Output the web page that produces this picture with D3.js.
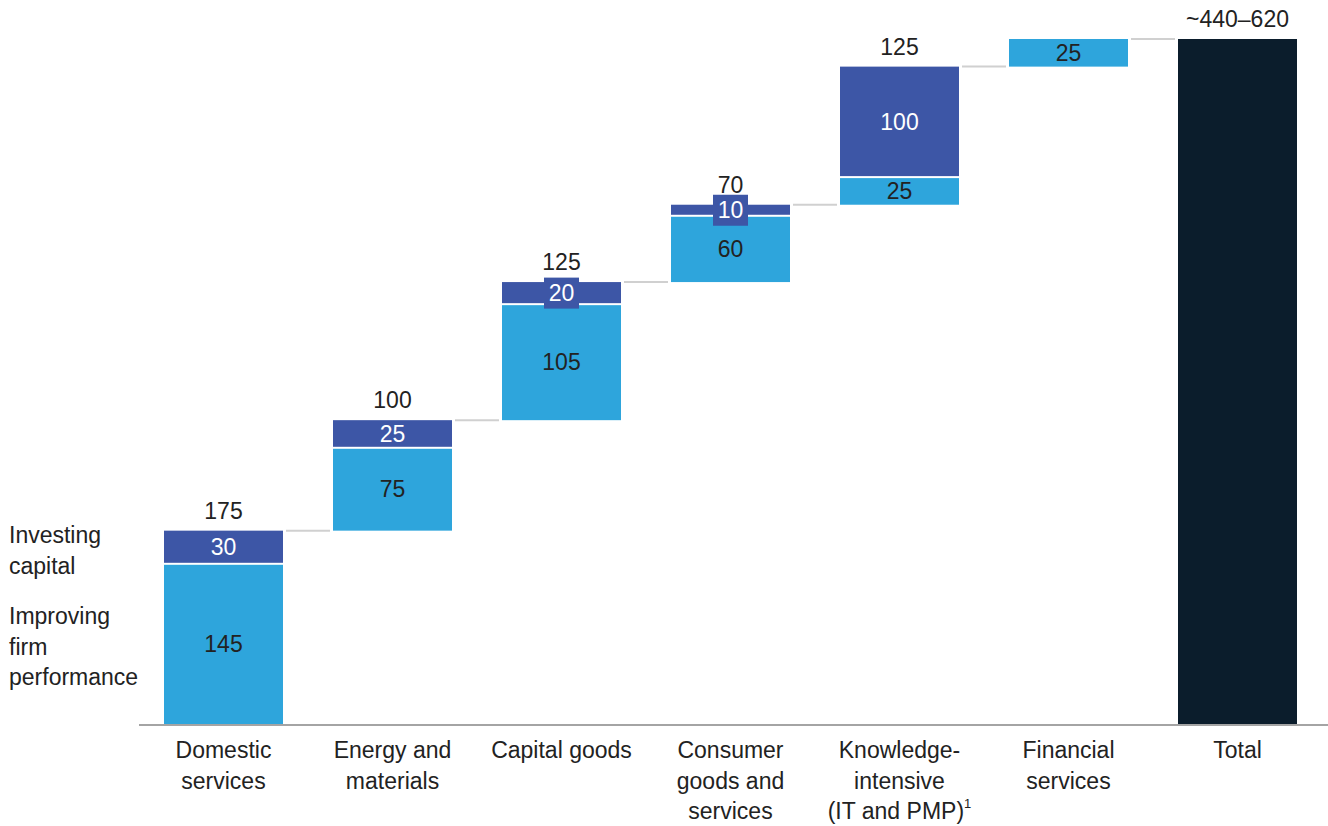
<!DOCTYPE html>
<html><head><meta charset="utf-8">
<script src="https://cdn.jsdelivr.net/npm/d3@7"></script>
<style>body{margin:0;background:#fff}svg{display:block}text{font-family:"Liberation Sans",Arial,sans-serif}</style>
</head><body><svg id="c" width="1328" height="826"></svg>
<script>
const categories = ["Domestic services","Energy and materials","Capital goods","Consumer goods and services","Knowledge-intensive (IT and PMP)","Financial services","Total"];
const categoryLines = [["Domestic","services"],["Energy and","materials"],["Capital goods"],["Consumer","goods and","services"],["Knowledge-","intensive","(IT and PMP)"],["Financial","services"],["Total"]];
const improving = [145, 75, 105, 60, 25, 25];
const investing = [30, 25, 20, 10, 100, 0];
const topLabels = ["175","100","125","70","125",""];
const totalValue = 620;
const totalLabel = "~440\u2013620";
const legendInvesting = ["Investing","capital"];
const legendImproving = ["Improving","firm","performance"];

const C_LIGHT = "#2ea5dc", C_DARK = "#3d56a6", C_TOTAL = "#0b1d2c", C_TEXT = "#222";
const FS = 23;
const svg = d3.select("#c");
const y = d3.scaleLinear().domain([0, 620]).range([724, 39]);
const x = d3.scaleBand().domain(categories).range([139, 1322]).paddingInner(50/169).paddingOuter(25/169);
const bw = x.bandwidth();

let cum = 0;
const rows = improving.map((v, i) => {
  const r = {cat: categories[i], base: cum, imp: v, inv: investing[i], label: topLabels[i]};
  cum += v + investing[i];
  r.top = cum;
  return r;
});

const conn = rows.map((r, i) => ({y: r.top, x1: x(categories[i]) + bw + 3, x2: x(categories[i+1]) - 3}));
svg.append("g").selectAll("line").data(conn).join("line")
  .attr("x1", d => d.x1).attr("x2", d => d.x2)
  .attr("y1", d => y(d.y)).attr("y2", d => y(d.y))
  .attr("stroke", "#d0d0d0").attr("stroke-width", 2);

svg.append("line").attr("x1", 139).attr("x2", 1328).attr("y1", y(0) + 1).attr("y2", y(0) + 1)
  .attr("stroke", "#a4a4a4").attr("stroke-width", 2);

const g = svg.append("g");
rows.forEach(r => {
  const x0 = x(r.cat);
  const split = r.base + r.imp;
  const impTop = r.inv > 0 ? y(split) + 1 : y(split);
  g.append("rect").attr("x", x0).attr("width", bw).attr("y", impTop).attr("height", y(r.base) - impTop).attr("fill", C_LIGHT);
  const cy = (y(r.base) + y(split)) / 2;
  g.append("text").attr("x", x0 + bw/2).attr("y", cy).attr("text-anchor", "middle").attr("dominant-baseline", "central")
    .attr("font-size", FS).attr("fill", C_TEXT).text(r.imp);
  if (r.inv > 0) {
    const t = y(r.top), b = y(split) - 1;
    g.append("rect").attr("x", x0).attr("width", bw).attr("y", t).attr("height", b - t).attr("fill", C_DARK);
    const cy2 = (y(r.top) + y(split)) / 2;
    if (y(split) - y(r.top) < 25) {
      g.append("rect").attr("x", x0 + bw/2 - 17.5).attr("y", cy2 - 15.5).attr("width", 35).attr("height", 31).attr("fill", C_DARK);
    }
    g.append("text").attr("x", x0 + bw/2).attr("y", cy2).attr("text-anchor", "middle").attr("dominant-baseline", "central")
      .attr("font-size", FS).attr("fill", "#fff").text(r.inv);
  }
  if (r.label) {
    g.append("text").attr("x", x0 + bw/2).attr("y", y(r.top) - 20).attr("text-anchor", "middle").attr("dominant-baseline", "central")
      .attr("font-size", FS).attr("fill", C_TEXT).text(r.label);
  }
});

const xt = x(categories[6]);
g.append("rect").attr("x", xt).attr("width", bw).attr("y", y(totalValue)).attr("height", y(0) - y(totalValue)).attr("fill", C_TOTAL);
g.append("text").attr("x", xt + bw/2).attr("y", y(totalValue) - 20).attr("text-anchor", "middle").attr("dominant-baseline", "central")
  .attr("font-size", FS).attr("fill", C_TEXT).text(totalLabel);

categories.forEach((c, i) => {
  categoryLines[i].forEach((ln, j) => {
    const t = svg.append("text").attr("x", x(c) + bw/2).attr("y", 750 + j * 30.5).attr("text-anchor", "middle")
      .attr("font-size", FS).attr("fill", C_TEXT).attr("dominant-baseline", "central");
    t.append("tspan").text(ln);
    if (ln === "(IT and PMP)") {
      t.append("tspan").attr("dy", -8).attr("font-size", 13).text("1");
    }
  });
});

legendInvesting.forEach((ln, j) => svg.append("text").attr("x", 9).attr("y", 535 + j * 30.5)
  .attr("dominant-baseline", "central").attr("font-size", FS).attr("fill", C_TEXT).text(ln));
legendImproving.forEach((ln, j) => svg.append("text").attr("x", 9).attr("y", 616 + j * 30.5)
  .attr("dominant-baseline", "central").attr("font-size", FS).attr("fill", C_TEXT).text(ln));
</script></body></html>
